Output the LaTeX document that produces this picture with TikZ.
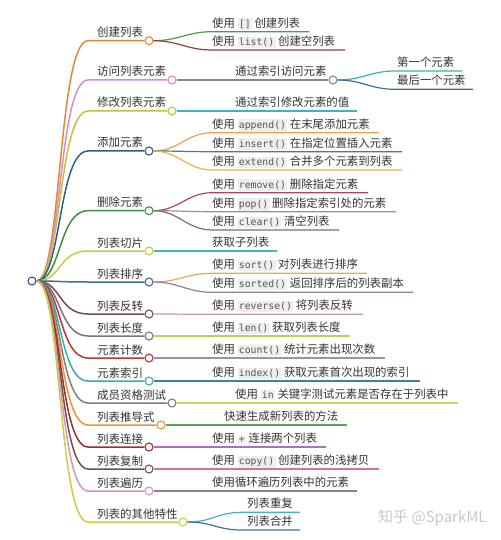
\documentclass[tikz,border=0pt]{standalone}
\usepackage{fontspec}
\setmainfont{Noto Sans CJK SC}
\setmonofont{DejaVu Sans Mono}
\definecolor{txt}{HTML}{333333}
\definecolor{codebg}{HTML}{EEEEEE}
\definecolor{codefg}{HTML}{555555}
\newcommand\cd[1]{{\setlength{\fboxsep}{1.3pt}\colorbox{codebg}{\ttfamily\fontsize{9.8}{10}\selectfont\color{codefg}#1}}}
\tikzset{
  dot/.style={circle, fill=white, line width=1.1pt, minimum size=8pt, inner sep=0pt},
  b1/.style={line width=1.5pt},
  b2/.style={line width=1.2pt},
  t1/.style={anchor=base west, inner sep=0pt, font=\fontsize{11.5}{12}\selectfont, text=txt},
  t2/.style={anchor=base west, inner sep=0pt, font=\fontsize{11.4}{12}\selectfont, text=txt},
}
% level one: name, y, circle x, colour, text
\newcommand\brA[5]{%
  \node[dot, draw=#4] (#1) at (#3,#2) {};
  \node[t1] (#1t) at (97,#2-4) {#5};
  \coordinate (#1s) at (88,#2);
  \draw[b1, draw=#4] (root.east) .. controls +(25,0) and +(-30,0) .. (#1s) -- (#1.west);
}
% level two: parent, name, y, start x, text x, end x, colour, text
\newcommand\brB[8]{%
  \coordinate (#2s) at (#4,#3);
  \coordinate (#2e) at (#6,#3);
  \node[t2] (#2t) at (#5,#3-4.5) {#8};
  \draw[b2, draw=#7] (#1.east) .. controls +(25,0) and +(-25,0) .. (#2s) -- (#2e);
}
\begin{document}
\begin{tikzpicture}[x=1pt,y=-1pt]
\useasboundingbox[fill=white] (0,0) rectangle (500,540);
\node[dot, draw={rgb,255:red,48;green,80;blue,160}] (root) at (32,281) {};

\brA{a}{40.7}{149}{{rgb,255:red,232;green,136;blue,46}}{创建列表}
\brA{b}{80}{172}{{rgb,255:red,217;green,138;blue,210}}{访问列表元素}
\brA{c}{111}{172}{{rgb,255:red,194;green,194;blue,58}}{修改列表元素}
\brA{d}{151}{149}{{rgb,255:red,47;green,95;blue,143}}{添加元素}
\brA{e}{210.7}{149}{{rgb,255:red,63;green,143;blue,63}}{删除元素}
\brA{f}{251}{149}{{rgb,255:red,202;green,202;blue,69}}{列表切片}
\brA{g}{282}{149}{{rgb,255:red,58;green,111;blue,159}}{列表排序}
\brA{h}{314}{149}{{rgb,255:red,111;green,79;blue,79}}{列表反转}
\brA{i}{336}{149}{{rgb,255:red,127;green,111;blue,127}}{列表长度}
\brA{j}{358}{149}{{rgb,255:red,194;green,51;blue,51}}{元素计数}
\brA{k}{381}{149}{{rgb,255:red,51;green,175;blue,175}}{元素索引}
\brA{l}{403}{172}{{rgb,255:red,128;green,128;blue,128}}{成员资格测试}
\brA{m}{425}{161}{{rgb,255:red,234;green,149;blue,53}}{列表推导式}
\brA{n}{447}{149}{{rgb,255:red,165;green,42;blue,42}}{列表连接}
\brA{o}{469}{149}{{rgb,255:red,112;green,83;blue,63}}{列表复制}
\brA{p}{491}{149}{{rgb,255:red,218;green,143;blue,203}}{列表遍历}
\brA{q}{522}{183}{{rgb,255:red,205;green,205;blue,69}}{列表的其他特性}

\brB{a}{a1}{31.7}{212}{212}{309}{{rgb,255:red,79;green,154;blue,79}}{使用 \cd{[]} 创建列表}
\brB{a}{a2}{50}{212}{212}{345}{{rgb,255:red,143;green,63;blue,63}}{使用 \cd{list()} 创建空列表}

\node[dot, draw={rgb,255:red,136;green,136;blue,136}] (b1) at (333,80) {};
\node[t2] (b1t) at (235,80-4.5) {通过索引访问元素};
\draw[b2, draw={rgb,255:red,136;green,136;blue,136}] (b.east) -- (b1.west);
\brB{b1}{b1a}{71}{395}{397}{462}{{rgb,255:red,60;green,176;blue,176}}{第一个元素}
\brB{b1}{b1b}{89.3}{395}{397}{473}{{rgb,255:red,63;green,111;blue,150}}{最后一个元素}

\brB{c}{c1}{111}{212}{235}{357}{{rgb,255:red,60;green,179;blue,195}}{通过索引修改元素的值}

\brB{d}{d1}{132.7}{212}{212}{379}{{rgb,255:red,232;green,164;blue,69}}{使用 \cd{append()} 在末尾添加元素}
\brB{d}{d2}{151.7}{212}{212}{402}{{rgb,255:red,79;green,127;blue,111}}{使用 \cd{insert()} 在指定位置插入元素}
\brB{d}{d3}{170}{212}{212}{402}{{rgb,255:red,232;green,180;blue,69}}{使用 \cd{extend()} 合并多个元素到列表}

\brB{e}{e1}{192.7}{212}{212}{368}{{rgb,255:red,176;green,69;blue,90}}{使用 \cd{remove()} 删除指定元素}
\brB{e}{e2}{211.7}{212}{212}{396}{{rgb,255:red,160;green,138;blue,165}}{使用 \cd{pop()} 删除指定索引处的元素}
\brB{e}{e3}{230}{212}{212}{339}{{rgb,255:red,128;green,106;blue,128}}{使用 \cd{clear()} 清空列表}

\brB{f}{f1}{251}{212}{212}{277}{{rgb,255:red,60;green,184;blue,184}}{获取子列表}

\brB{g}{g1}{273.3}{212}{212}{367}{{rgb,255:red,232;green,170;blue,85}}{使用 \cd{sort()} 对列表进行排序}
\brB{g}{g2}{292.3}{212}{212}{413}{{rgb,255:red,143;green,127;blue,160}}{使用 \cd{sorted()} 返回排序后的列表副本}

\brB{h}{h1}{314.3}{212}{212}{363}{{rgb,255:red,202;green,146;blue,186}}{使用 \cd{reverse()} 将列表反转}
\brB{i}{i1}{336}{212}{212}{350}{{rgb,255:red,202;green,202;blue,85}}{使用 \cd{len()} 获取列表长度}
\brB{j}{j1}{358}{212}{212}{385}{{rgb,255:red,160;green,144;blue,176}}{使用 \cd{count()} 统计元素出现次数}
\brB{k}{k1}{381}{212}{212}{420}{{rgb,255:red,63;green,127;blue,159}}{使用 \cd{index()} 获取元素首次出现的索引}
\brB{l}{l1}{403}{212}{235}{458}{{rgb,255:red,210;green,210;blue,85}}{使用 \cd{in} 关键字测试元素是否存在于列表中}
\brB{m}{m1}{425}{212}{224}{347}{{rgb,255:red,95;green,162;blue,95}}{快速生成新列表的方法}
\brB{n}{n1}{447}{212}{212}{326}{{rgb,255:red,170;green,114;blue,186}}{使用 \cd{+} 连接两个列表}
\brB{o}{o1}{469}{212}{212}{379}{{rgb,255:red,210;green,114;blue,170}}{使用 \cd{copy()} 创建列表的浅拷贝}
\brB{p}{p1}{491}{212}{212}{357}{{rgb,255:red,133;green,133;blue,133}}{使用循环遍历列表中的元素}
\brB{q}{q1}{512.3}{242}{247}{300}{{rgb,255:red,66;green,178;blue,194}}{列表重复}
\brB{q}{q2}{530}{242}{247}{300}{{rgb,255:red,63;green,114;blue,146}}{列表合并}

\node[anchor=west, inner sep=0pt, font=\fontsize{15}{16}\selectfont, text={rgb,255:red,200;green,200;blue,200}] (wm) at (378,518) {知乎 @SparkML};
\end{tikzpicture}
\end{document}
